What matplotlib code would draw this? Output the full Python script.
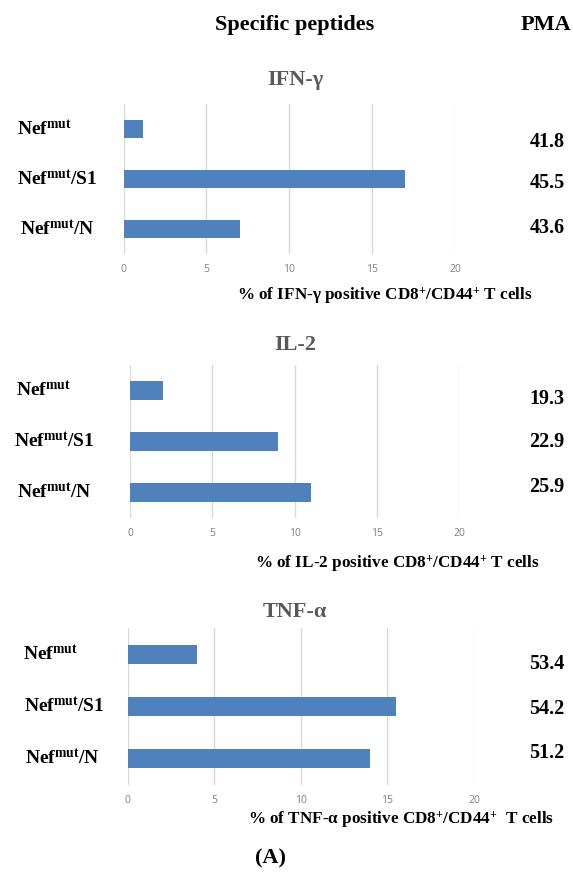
import matplotlib
matplotlib.use("Agg")
import matplotlib.pyplot as plt
import matplotlib.transforms as mtransforms

plt.rcParams['font.family'] = ['Liberation Serif', 'DejaVu Serif']
plt.rcParams['mathtext.fontset'] = 'custom'
plt.rcParams['mathtext.rm'] = 'Liberation Serif'
plt.rcParams['mathtext.bf'] = 'Liberation Serif:bold'
plt.rcParams['mathtext.it'] = 'Liberation Serif:italic'

# data
groups = ['Nef$^{mut}$', 'Nef$^{mut}$/S1', 'Nef$^{mut}$/N']
group_labels = [r'$\mathbf{Nef}^{\mathbf{mut}}$',
                r'$\mathbf{Nef}^{\mathbf{mut}}\mathbf{/S1}$',
                r'$\mathbf{Nef}^{\mathbf{mut}}\mathbf{/N}$']
cytokines = ['IFN-γ', 'IL-2', 'TNF-α']
ifn_values = [1.2, 17.0, 7.0]
il2_values = [2.0, 9.0, 11.0]
tnf_values = [4.0, 15.5, 14.0]
pma_ifn = ['41.8', '45.5', '43.6']
pma_il2 = ['19.3', '22.9', '25.9']
pma_tnf = ['53.4', '54.2', '51.2']
xticks = [0, 5, 10, 15, 20]
xlabels = [r'% of IFN-γ positive CD8$^{\mathbf{+}}$/CD44$^{\mathbf{+}}$ T cells',
           r'% of IL-2 positive CD8$^{\mathbf{+}}$/CD44$^{\mathbf{+}}$ T cells',
           r'% of TNF-α positive CD8$^{\mathbf{+}}$/CD44$^{\mathbf{+}}$  T cells']

# layout in pixels (left, right, top, bottom of plot area)
W, H = 573, 872
boxes = [(123.5, 455, 104, 254), (130, 459, 365, 518), (127.5, 474, 628, 785)]
title_y = [80, 345, 612]
label_x = [[17, 17, 20], [16, 14, 17], [23, 24, 25]]
pma_y = [[142, 183, 228], [399, 442, 487], [664, 709, 753]]
xlabel_pos = [(385, 296), (397, 564), (401, 820)]

bar_color = '#4F81BD'
grid_color = '#D9D9D9'

fig = plt.figure(figsize=(W / 100, H / 100), dpi=100)

fig.text(295 / W, 1 - 25 / H, 'Specific peptides', ha='center', va='center',
         fontsize=16, fontweight='bold')
fig.text(546 / W, 1 - 25 / H, 'PMA', ha='center', va='center',
         fontsize=16, fontweight='bold')

all_values = [ifn_values, il2_values, tnf_values]
all_pma = [pma_ifn, pma_il2, pma_tnf]

for k in range(3):
    l, r, t, b = boxes[k]
    ax = fig.add_axes([l / W, 1 - b / H, (r - l) / W, (b - t) / H])
    ypos = list(range(len(groups)))
    ax.barh(ypos, all_values[k], height=0.36, color=bar_color, zorder=3)
    ax.set_xlim(0, 20)
    ax.set_ylim(2.5, -0.5)
    ax.set_xticks(xticks)
    ax.set_xticklabels([str(v) for v in xticks], fontfamily='Open Sans',
                       fontsize=7.5, color='#7F7F7F')
    ax.tick_params(axis='x', length=0, pad=7)
    ax.set_yticks([])
    ax.grid(axis='x', color=grid_color, linewidth=1, zorder=0)
    for s in ax.spines.values():
        s.set_visible(False)

    fig.text(295 / W, 1 - title_y[k] / H, cytokines[k], ha='center', va='center',
             fontsize=16, fontweight='bold', color='#595959')

    tr = mtransforms.blended_transform_factory(fig.transFigure, ax.transData)
    for i, lab in enumerate(group_labels):
        ax.text(label_x[k][i] / W, i, lab, transform=tr, ha='left', va='center',
                fontsize=14, clip_on=False)
    for i, v in enumerate(all_pma[k]):
        fig.text(547 / W, 1 - pma_y[k][i] / H, v, ha='center', va='center',
                 fontsize=14.5, fontweight='bold')

    xx, yy = xlabel_pos[k]
    fig.text(xx / W, 1 - yy / H, xlabels[k], ha='center', va='center',
             fontsize=12.3, fontweight='bold')

fig.text(270 / W, 1 - 858 / H, '(A)', ha='center', va='center',
         fontsize=16, fontweight='bold')

fig.savefig('out.png', dpi=100)
